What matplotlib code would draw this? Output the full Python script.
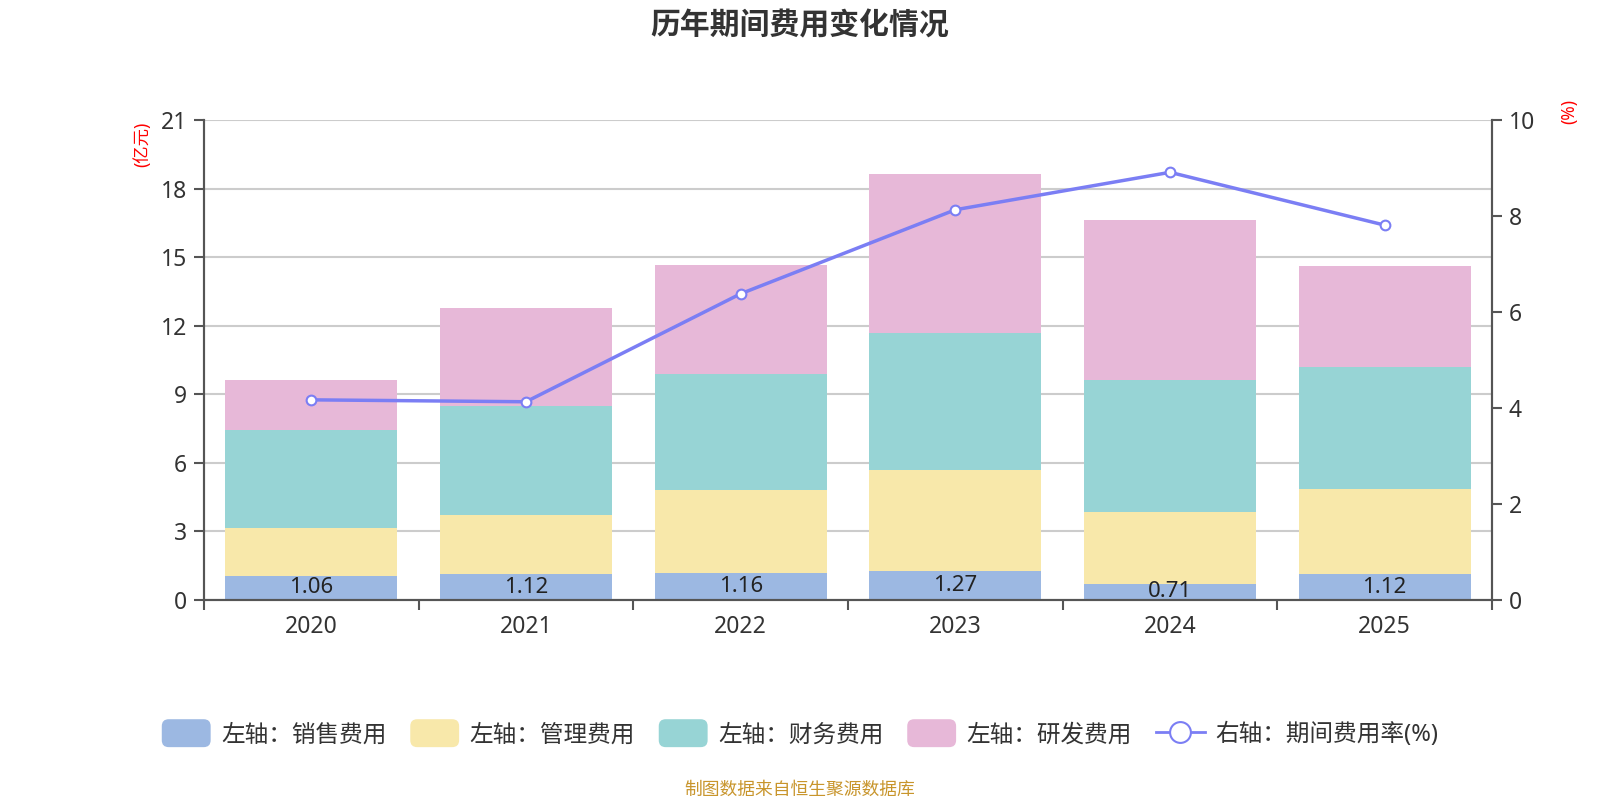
import matplotlib
matplotlib.use('Agg')
import numpy as np
import matplotlib.pyplot as plt
from matplotlib.patches import Patch, FancyBboxPatch
from matplotlib.lines import Line2D
from matplotlib.legend_handler import HandlerPatch

plt.rcParams['font.family'] = ['Noto Sans', 'Noto Sans CJK SC', 'DejaVu Sans']

years = ['2020', '2021', '2022', '2023', '2024', '2025']
sales = [1.06, 1.12, 1.16, 1.27, 0.71, 1.12]
mgmt = [2.11, 2.59, 3.67, 4.40, 3.13, 3.75]
fin = [4.25, 4.78, 5.05, 5.99, 5.77, 5.32]
rnd = [2.19, 4.29, 4.78, 6.97, 7.01, 4.42]
rate = [4.17, 4.13, 6.38, 8.13, 8.91, 7.81]

names = ['左轴：销售费用', '左轴：管理费用', '左轴：财务费用', '左轴：研发费用']
colors = ['#9cb8e2', '#f8e8aa', '#97d4d5', '#e7b8d8']
line_color = '#7b7ef4'
txt = '#333333'


class RoundHandler(HandlerPatch):
    def create_artists(self, legend, orig_handle, xdescent, ydescent,
                       width, height, fontsize, trans):
        p = FancyBboxPatch((-xdescent, -ydescent - 3), width, height + 6,
                           boxstyle='round,pad=0,rounding_size=5',
                           facecolor=orig_handle.get_facecolor(),
                           edgecolor='none', transform=trans)
        return [p]


fig = plt.figure(figsize=(16, 8), dpi=100)
ax = fig.add_axes([0.1275, 0.25, 0.805, 0.6])
ax2 = ax.twinx()

x = np.arange(len(years))
bottom = np.zeros(len(years))
series = [sales, mgmt, fin, rnd]
for vals, c in zip(series, colors):
    ax.bar(x, vals, 0.8, bottom=bottom, color=c, zorder=2)
    bottom = bottom + np.array(vals)

for i, v in enumerate(sales):
    ax.text(x[i], v / 2, '%.2f' % v, ha='center', va='center',
            fontsize=16, color='#222222', zorder=3)

ax2.plot(x, rate, color=line_color, lw=2.5, marker='o', ms=7,
         mfc='white', mec=line_color, mew=1.5, zorder=4)

ax.set_xlim(-0.5, len(years) - 0.5)
ax.set_ylim(0, 21)
ax.set_yticks(np.arange(0, 22, 3))
ax2.set_ylim(0, 10)
ax2.set_yticks(np.arange(0, 11, 2))

ax.set_xticks(np.arange(-0.5, len(years)), minor=False)
ax.set_xticklabels([])
ax.set_xticks(x, minor=True)
ax.set_xticklabels(years, minor=True)
ax.tick_params(axis='x', which='minor', length=0, pad=11, labelsize=16.5, labelcolor=txt)
ax.tick_params(axis='x', which='major', length=7, width=1.5, color='#555555')
ax.tick_params(axis='y', length=7, width=1.5, color='#555555', labelsize=16.5,
               labelcolor=txt, pad=5)
ax2.tick_params(axis='y', length=7, width=1.5, color='#555555', labelsize=16.5,
                labelcolor=txt, pad=5)

ax.yaxis.grid(True, color='#cccccc', lw=1.5, zorder=0)
ax.set_axisbelow(True)
for a in (ax, ax2):
    a.spines['top'].set_visible(False)
    for s in ('left', 'right', 'bottom'):
        a.spines[s].set_color('#555555')
        a.spines[s].set_linewidth(1.5)

fig.text(0.089, 0.82, '(亿元)', rotation=90, color='red', fontsize=12.5,
         ha='center', va='center')
fig.text(0.9805, 0.86, '(%)', rotation=90, color='red', fontsize=12.5,
         ha='center', va='center')

fig.suptitle('历年期间费用变化情况', x=0.5, y=0.985, fontsize=21.5,
             fontweight='bold', color=txt)

handles = [Patch(facecolor=c) for c in colors]
handles.append(Line2D([], [], color=line_color, lw=2, marker='o', ms=15,
                      mfc='white', mec=line_color, mew=1.5))
hmap = {h: RoundHandler() for h in handles[:4]}
fig.legend(handles, names + ['右轴：期间费用率(%)'], loc='center',
           bbox_to_anchor=(0.5, 0.081), ncol=5, frameon=False, fontsize=17,
           handlelength=2.07, handleheight=0.9, columnspacing=1.0,
           handletextpad=0.45, handler_map=hmap, labelcolor=txt)

fig.text(0.5, 0.013, '制图数据来自恒生聚源数据库', ha='center', va='center',
         fontsize=12.8, color='#c8952c')

fig.savefig('out.png', dpi=100)
